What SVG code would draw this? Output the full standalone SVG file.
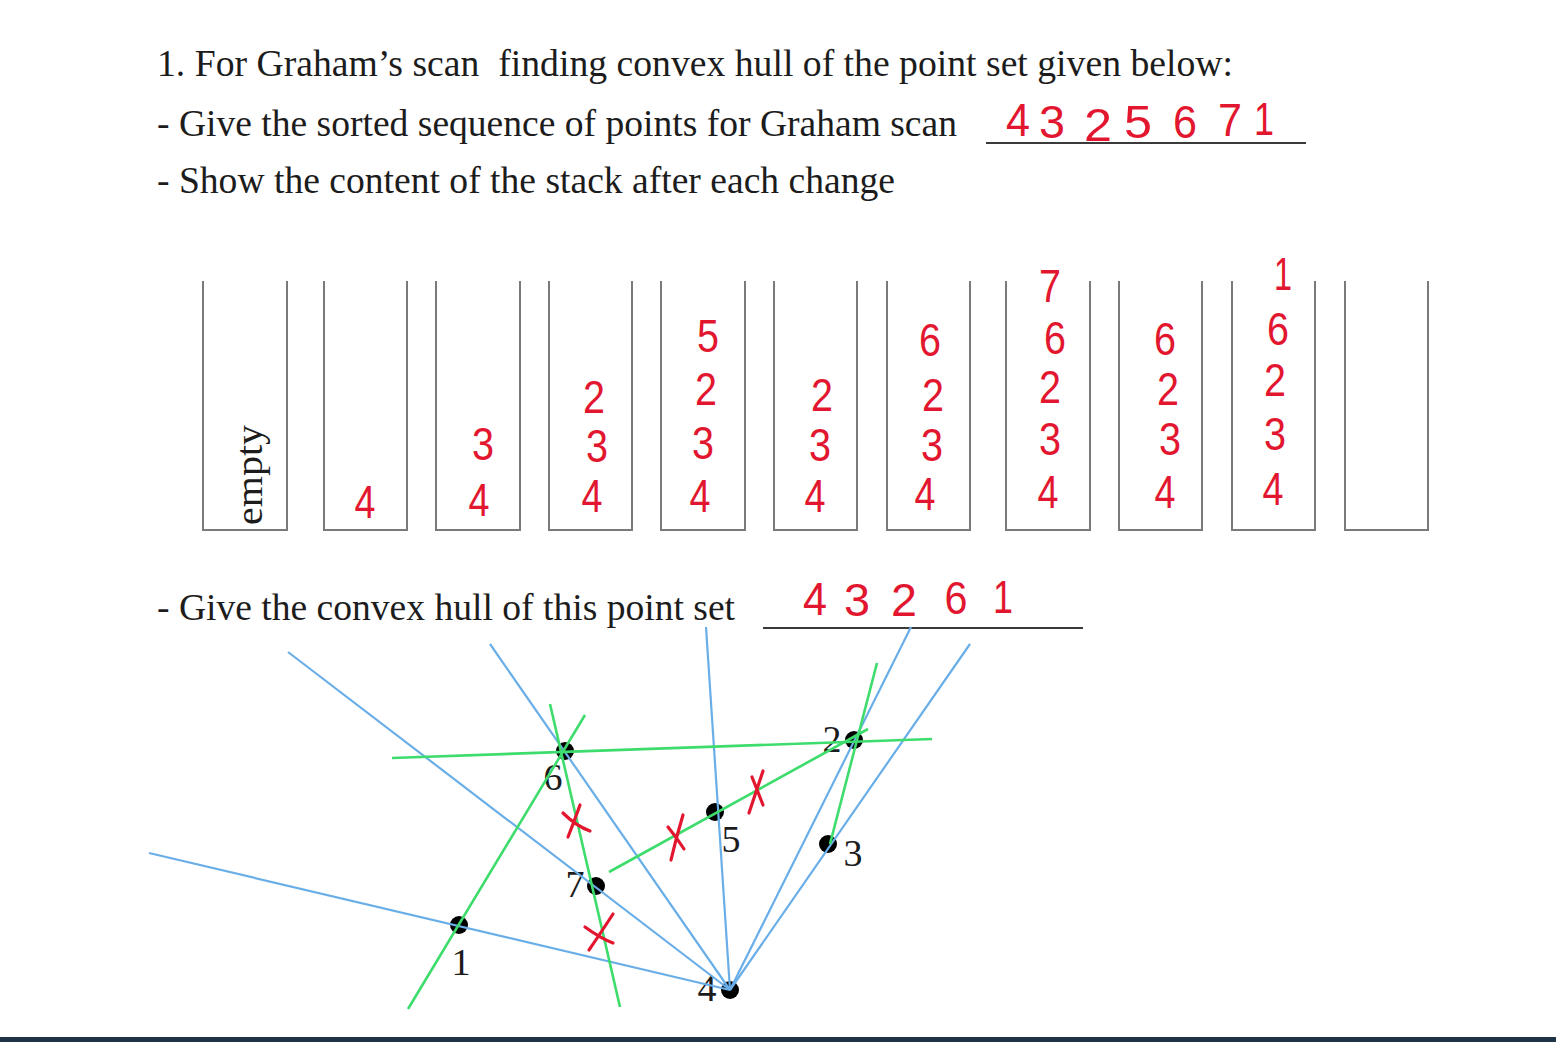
<svg xmlns="http://www.w3.org/2000/svg" width="1556" height="1042" viewBox="0 0 1556 1042">
<style>
.q{font-family:"Liberation Serif","Times New Roman",serif;font-size:37px;fill:#1c1c1c;white-space:pre}
.hw{font-family:"Liberation Sans",Arial,sans-serif;font-size:46px;fill:#e2162f;text-anchor:middle}
.stk{fill:none;stroke:#7a7a7a;stroke-width:2}
.ul{stroke:#3a3a3a;stroke-width:2}
.blue{stroke:#6aaee8;stroke-width:2.2;fill:none}
.green{stroke:#3ddc6c;stroke-width:2.6;fill:none}
.x{stroke:#e2162f;stroke-width:3.2;fill:none;stroke-linecap:round}
.pt{fill:#000}
.lbl{font-family:"Liberation Serif","Times New Roman",serif;font-size:38px;fill:#1c1c1c;text-anchor:middle}
</style>
<rect width="1556" height="1042" fill="#fff"/>

<g id="question">
<text class="q" x="157" y="76" textLength="1076" lengthAdjust="spacingAndGlyphs">1. For Graham’s scan  finding convex hull of the point set given below:</text>
<text class="q" x="157" y="136" textLength="800" lengthAdjust="spacingAndGlyphs">- Give the sorted sequence of points for Graham scan</text>
<line class="ul" x1="986" y1="143" x2="1306" y2="143"/>
<g id="sorted-answer">
<text class="hw" x="1018" y="136" textLength="24" lengthAdjust="spacingAndGlyphs">4</text>
<text class="hw" x="1052" y="138" textLength="26" lengthAdjust="spacingAndGlyphs">3</text>
<text class="hw" x="1098" y="141" textLength="28" lengthAdjust="spacingAndGlyphs">2</text>
<text class="hw" x="1138" y="138" textLength="28" lengthAdjust="spacingAndGlyphs">5</text>
<text class="hw" x="1185" y="138" textLength="24" lengthAdjust="spacingAndGlyphs">6</text>
<text class="hw" x="1230" y="136" textLength="24" lengthAdjust="spacingAndGlyphs">7</text>
<text class="hw" x="1264" y="135" textLength="20" lengthAdjust="spacingAndGlyphs">1</text>
</g>
<text class="q" x="157" y="193" textLength="738" lengthAdjust="spacingAndGlyphs">- Show the content of the stack after each change</text>
</g>

<g id="stacks">
<g id="stack1"><path class="stk" d="M203 281V530H287V281"/><text class="q" transform="translate(262 525) rotate(-90)" font-size="39" textLength="100" lengthAdjust="spacingAndGlyphs">empty</text></g>
<g id="stack2"><path class="stk" d="M324 281V530H407V281"/><text class="hw" x="365" y="518" textLength="21" lengthAdjust="spacingAndGlyphs">4</text></g>
<g id="stack3"><path class="stk" d="M436 281V530H520V281"/><text class="hw" x="483" y="460" textLength="22" lengthAdjust="spacingAndGlyphs">3</text><text class="hw" x="479" y="516" textLength="21" lengthAdjust="spacingAndGlyphs">4</text></g>
<g id="stack4"><path class="stk" d="M549 281V530H632V281"/><text class="hw" x="594" y="413" textLength="22" lengthAdjust="spacingAndGlyphs">2</text><text class="hw" x="597" y="462" textLength="22" lengthAdjust="spacingAndGlyphs">3</text><text class="hw" x="592" y="512" textLength="21" lengthAdjust="spacingAndGlyphs">4</text></g>
<g id="stack5"><path class="stk" d="M661 281V530H745V281"/><text class="hw" x="708" y="352" textLength="22" lengthAdjust="spacingAndGlyphs">5</text><text class="hw" x="706" y="405" textLength="22" lengthAdjust="spacingAndGlyphs">2</text><text class="hw" x="703" y="459" textLength="22" lengthAdjust="spacingAndGlyphs">3</text><text class="hw" x="700" y="512" textLength="21" lengthAdjust="spacingAndGlyphs">4</text></g>
<g id="stack6"><path class="stk" d="M774 281V530H857V281"/><text class="hw" x="822" y="411" textLength="22" lengthAdjust="spacingAndGlyphs">2</text><text class="hw" x="820" y="461" textLength="22" lengthAdjust="spacingAndGlyphs">3</text><text class="hw" x="815" y="512" textLength="21" lengthAdjust="spacingAndGlyphs">4</text></g>
<g id="stack7"><path class="stk" d="M887 281V530H970V281"/><text class="hw" x="930" y="356" textLength="22" lengthAdjust="spacingAndGlyphs">6</text><text class="hw" x="933" y="411" textLength="22" lengthAdjust="spacingAndGlyphs">2</text><text class="hw" x="932" y="461" textLength="22" lengthAdjust="spacingAndGlyphs">3</text><text class="hw" x="925" y="510" textLength="21" lengthAdjust="spacingAndGlyphs">4</text></g>
<g id="stack8"><path class="stk" d="M1006 281V530H1090V281"/><text class="hw" x="1050" y="302" textLength="22" lengthAdjust="spacingAndGlyphs">7</text><text class="hw" x="1055" y="354" textLength="22" lengthAdjust="spacingAndGlyphs">6</text><text class="hw" x="1050" y="403" textLength="22" lengthAdjust="spacingAndGlyphs">2</text><text class="hw" x="1050" y="455" textLength="22" lengthAdjust="spacingAndGlyphs">3</text><text class="hw" x="1048" y="508" textLength="21" lengthAdjust="spacingAndGlyphs">4</text></g>
<g id="stack9"><path class="stk" d="M1119 281V530H1202V281"/><text class="hw" x="1165" y="355" textLength="22" lengthAdjust="spacingAndGlyphs">6</text><text class="hw" x="1168" y="405" textLength="22" lengthAdjust="spacingAndGlyphs">2</text><text class="hw" x="1170" y="455" textLength="22" lengthAdjust="spacingAndGlyphs">3</text><text class="hw" x="1165" y="508" textLength="21" lengthAdjust="spacingAndGlyphs">4</text></g>
<g id="stack10"><path class="stk" d="M1232 281V530H1315V281"/><text class="hw" x="1283" y="290" textLength="18" lengthAdjust="spacingAndGlyphs">1</text><text class="hw" x="1278" y="345" textLength="22" lengthAdjust="spacingAndGlyphs">6</text><text class="hw" x="1275" y="396" textLength="22" lengthAdjust="spacingAndGlyphs">2</text><text class="hw" x="1275" y="450" textLength="22" lengthAdjust="spacingAndGlyphs">3</text><text class="hw" x="1273" y="505" textLength="21" lengthAdjust="spacingAndGlyphs">4</text></g>
<g id="stack11"><path class="stk" d="M1345 281V530H1428V281"/></g>
</g>

<g id="hull-question">
<text class="q" x="157" y="620" textLength="578" lengthAdjust="spacingAndGlyphs">- Give the convex hull of this point set</text>
<line class="ul" x1="763" y1="628" x2="1083" y2="628"/>
<g id="hull-answer">
<text class="hw" x="815" y="615" textLength="24" lengthAdjust="spacingAndGlyphs">4</text>
<text class="hw" x="857" y="616" textLength="26" lengthAdjust="spacingAndGlyphs">3</text>
<text class="hw" x="904" y="616" textLength="26" lengthAdjust="spacingAndGlyphs">2</text>
<text class="hw" x="956" y="614" textLength="23" lengthAdjust="spacingAndGlyphs">6</text>
<text class="hw" x="1003" y="613" textLength="20" lengthAdjust="spacingAndGlyphs">1</text>
</g>
</g>

<g id="points">
<g id="p1"><circle class="pt" cx="459" cy="925" r="9"/><text class="lbl" x="461" y="975">1</text></g>
<g id="p2"><circle class="pt" cx="854" cy="740" r="9"/><text class="lbl" x="832" y="752">2</text></g>
<g id="p3"><circle class="pt" cx="828" cy="844" r="9"/><text class="lbl" x="853" y="866">3</text></g>
<g id="p4"><circle class="pt" cx="730" cy="990" r="9"/><text class="lbl" x="707" y="1001">4</text></g>
<g id="p5"><circle class="pt" cx="715" cy="812" r="9"/><text class="lbl" x="731" y="852">5</text></g>
<g id="p6"><circle class="pt" cx="565" cy="751" r="9"/><text class="lbl" x="553" y="790">6</text></g>
<g id="p7"><circle class="pt" cx="596" cy="886" r="9"/><text class="lbl" x="575" y="897">7</text></g>
</g>

<g id="connectors">
<line class="blue" x1="149" y1="853" x2="730" y2="990"/>
<line class="blue" x1="288" y1="652" x2="730" y2="990"/>
<line class="blue" x1="490" y1="644" x2="730" y2="990"/>
<line class="blue" x1="706" y1="627" x2="730" y2="990"/>
<line class="blue" x1="911" y1="627" x2="730" y2="990"/>
<line class="blue" x1="970" y1="644" x2="730" y2="990"/>
<line class="green" x1="392" y1="758" x2="932" y2="739"/>
<line class="green" x1="408" y1="1009" x2="585" y2="715"/>
<line class="green" x1="550" y1="704" x2="620" y2="1007"/>
<line class="green" x1="609" y1="872" x2="868" y2="729"/>
<line class="green" x1="830" y1="844" x2="877" y2="663"/>
</g>

<g id="cross-marks">
<path class="x" d="M580 805Q574 822 568 837M563 813Q576 826 590 831"/>
<path class="x" d="M613 914Q600 934 589 950M585 927Q600 938 613 943"/>
<path class="x" d="M683 815Q676 838 671 860M668 827Q677 838 684 849"/>
<path class="x" d="M763 771Q756 792 749 813M752 777Q758 792 763 805"/>
</g>

<rect x="0" y="1037" width="1556" height="5" fill="#1f3347"/>
</svg>
